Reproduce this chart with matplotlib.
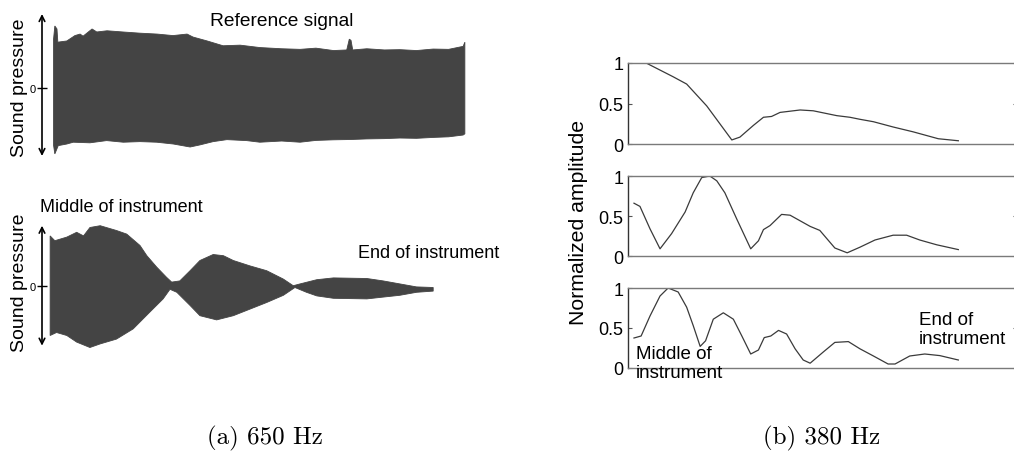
import matplotlib.pyplot as plt
import numpy as np

plt.rcParams['font.family'] = ['Liberation Sans', 'DejaVu Sans']

W, H = 1014, 452

# (a) 650 Hz -- envelopes of the recorded waveforms (time as fraction of panel width)
ref_t_up = [0.027, 0.030, 0.035, 0.037, 0.058, 0.077, 0.089, 0.096, 0.117, 0.128, 0.152,
            0.189, 0.229, 0.269, 0.306, 0.339, 0.353, 0.386, 0.423, 0.463, 0.509, 0.560,
            0.603, 0.640, 0.681, 0.712, 0.718, 0.722, 0.726, 0.759, 0.800, 0.836, 0.875,
            0.914, 0.950, 0.984, 0.988]
ref_up = [0.82, 1.04, 0.99, 0.77, 0.79, 0.88, 0.905, 0.87, 0.99, 0.94, 0.96,
          0.94, 0.92, 0.905, 0.88, 0.905, 0.855, 0.79, 0.71, 0.72, 0.68, 0.66,
          0.65, 0.67, 0.63, 0.64, 0.82, 0.80, 0.64, 0.66, 0.64, 0.645, 0.63,
          0.655, 0.65, 0.70, 0.77]
ref_t_lo = [0.027, 0.030, 0.038, 0.058, 0.073, 0.112, 0.151, 0.190, 0.229, 0.268, 0.307,
            0.346, 0.369, 0.400, 0.432, 0.478, 0.509, 0.560, 0.603, 0.640, 0.681, 0.720,
            0.759, 0.800, 0.836, 0.875, 0.914, 0.950, 0.984, 0.988]
ref_lo = [-0.95, -1.095, -0.957, -0.93, -0.90, -0.91, -0.873, -0.90, -0.89, -0.90, -0.93,
          -0.98, -0.945, -0.89, -0.857, -0.873, -0.90, -0.88, -0.90, -0.87, -0.86, -0.855,
          -0.845, -0.84, -0.83, -0.835, -0.82, -0.81, -0.78, -0.76]

mid_t_up = [0.019, 0.030, 0.058, 0.081, 0.097, 0.112, 0.136, 0.174, 0.198, 0.229, 0.245,
            0.268, 0.291, 0.303, 0.322, 0.346, 0.369, 0.400, 0.424, 0.447, 0.486, 0.525,
            0.564, 0.587, 0.603, 0.642, 0.681, 0.759, 0.797, 0.836, 0.875, 0.914]
mid_up = [0.83, 0.75, 0.81, 0.89, 0.83, 0.97, 1.00, 0.92, 0.86, 0.67, 0.50,
          0.31, 0.14, 0.06, 0.08, 0.25, 0.42, 0.52, 0.50, 0.42, 0.33, 0.25,
          0.11, 0.0, 0.03, 0.10, 0.13, 0.12, 0.08, 0.03, -0.02, -0.03]
mid_t_lo = [0.019, 0.034, 0.058, 0.081, 0.112, 0.136, 0.174, 0.213, 0.252, 0.283, 0.299,
            0.315, 0.346, 0.369, 0.408, 0.447, 0.486, 0.525, 0.564, 0.591, 0.618, 0.642,
            0.681, 0.759, 0.797, 0.836, 0.875, 0.914]
mid_lo = [-0.83, -0.78, -0.83, -0.94, -1.03, -0.97, -0.89, -0.72, -0.44, -0.22, -0.06,
          -0.11, -0.33, -0.50, -0.57, -0.50, -0.39, -0.28, -0.16, -0.03, -0.11, -0.17,
          -0.21, -0.22, -0.19, -0.16, -0.11, -0.09]

# (b) 380 Hz -- normalized amplitude along the instrument
pos_a = [4.7, 11.7, 15.2, 20.4, 26.9, 29.0, 32.5, 35.1, 37.2, 39.4, 44.6, 48.0, 54.1,
         57.5, 60.1, 63.6, 68.7, 73.9, 80.4, 85.6]
amp_a = [1.0, 0.83, 0.74, 0.47, 0.05, 0.085, 0.23, 0.33, 0.34, 0.39, 0.42, 0.41, 0.35,
         0.33, 0.305, 0.275, 0.21, 0.15, 0.065, 0.04]
pos_b = [1.55, 3.1, 5.7, 8.3, 11.3, 14.8, 16.9, 19.1, 21.2, 23.0, 25.1, 28.2, 31.8, 33.8,
         35.1, 36.8, 39.8, 42.0, 44.6, 47.2, 49.7, 53.6, 56.8, 60.1, 64.0, 68.7, 72.2,
         75.6, 80.0, 85.6]
amp_b = [0.66, 0.62, 0.34, 0.09, 0.28, 0.55, 0.79, 0.98, 1.0, 0.94, 0.79, 0.46, 0.09, 0.19,
         0.33, 0.38, 0.52, 0.51, 0.44, 0.37, 0.32, 0.10, 0.04, 0.11, 0.20, 0.26, 0.26,
         0.20, 0.14, 0.08]
pos_c = [1.55, 3.4, 5.7, 8.3, 10.4, 13.0, 15.2, 16.9, 18.7, 20.1, 22.1, 24.7, 27.3, 29.5,
         31.8, 33.8, 35.3, 37.0, 39.0, 41.1, 43.3, 45.4, 47.2, 50.6, 53.6, 57.1, 60.1,
         63.6, 67.4, 69.2, 73.0, 76.9, 80.8, 85.6]
amp_c = [0.375, 0.40, 0.65, 0.90, 1.0, 0.95, 0.76, 0.53, 0.27, 0.34, 0.61, 0.69, 0.61, 0.40,
         0.175, 0.225, 0.38, 0.40, 0.47, 0.425, 0.24, 0.10, 0.06, 0.20, 0.32, 0.33, 0.24,
         0.15, 0.05, 0.05, 0.15, 0.175, 0.155, 0.10]


def rect(x0, y0, x1, y1):
    # pixel box (top-left origin) -> figure fraction
    return [x0 / W, 1 - y1 / H, (x1 - x0) / W, (y1 - y0) / H]


fig = plt.figure(figsize=(W / 100, H / 100), dpi=100)
wave_color = '#444444'


def wave_panel(box, ylim, t_up, up, t_lo, lo):
    ax = fig.add_axes(box)
    xs = np.concatenate([t_up, t_lo[::-1]])
    ys = np.concatenate([up, lo[::-1]])
    ax.fill(xs, ys, color=wave_color, lw=0.6, clip_on=False)
    ax.set_xlim(0, 1)
    ax.set_ylim(*ylim)
    for s in ax.spines.values():
        s.set_visible(False)
    ax.set_xticks([])
    ax.set_yticks([0])
    ax.set_yticklabels(['0'], fontsize=8)
    ax.tick_params(axis='y', direction='inout', length=7, width=1, pad=1)
    ax.annotate('', xy=(0, 1), xytext=(0, 0), xycoords='axes fraction',
                arrowprops=dict(arrowstyle='<->', color='black', lw=1.2,
                                shrinkA=0, shrinkB=0, mutation_scale=10))
    ax.patch.set_alpha(0)
    return ax


wave_panel(rect(42, 15, 470, 157), (-1.13, 1.24), ref_t_up, ref_up, ref_t_lo, ref_lo)
wave_panel(rect(42, 226.7, 470, 346.7), (-1.0, 1.0), mid_t_up, mid_up, mid_t_lo, mid_lo)

fig.text(282 / W, 1 - 21 / H, 'Reference signal', ha='center', va='center', fontsize=13.8)
fig.text(40 / W, 1 - 208 / H, 'Middle of instrument', ha='left', va='center', fontsize=13)
fig.text(358 / W, 1 - 253 / H, 'End of instrument', ha='left', va='center', fontsize=13)
for yc in (88, 283):
    fig.text(20 / W, 1 - yc / H, 'Sound pressure', rotation=90,
             ha='center', va='center', fontsize=14)

# right-hand panels
boxes = [(64, 145), (177, 257), (289, 369)]
series = [(pos_a, amp_a), (pos_b, amp_b), (pos_c, amp_c)]
axes_r = []
for (y0, y1), (px, py) in zip(boxes, series):
    ax = fig.add_axes(rect(628, y0, 1017, y1))
    ax.plot(px, py, color='#3a3a3a', lw=0.9)
    ax.set_xlim(0, 100.8)
    ax.set_ylim(0, 1)
    ax.set_xticks([])
    ax.set_yticks([0, 0.5, 1])
    ax.set_yticklabels(['0', '0.5', '1'], fontsize=13)
    ax.tick_params(axis='y', direction='in', length=3, pad=3.5, right=True, color='#555555')
    ax.spines['left'].set_color('#333333')
    for k in ('top', 'bottom', 'right'):
        ax.spines[k].set_color('#7a7a7a')
    for s in ax.spines.values():
        s.set_linewidth(1.0)
    axes_r.append(ax)

axes_r[2].text(2.0, 0.06, 'Middle of\ninstrument', ha='left', va='center',
               fontsize=13.5, linespacing=1.15, clip_on=False)
axes_r[2].text(75.3, 0.49, 'End of\ninstrument', ha='left', va='center',
               fontsize=13.5, linespacing=1.15, clip_on=False)
fig.text(579 / W, 1 - 222 / H, 'Normalized amplitude', rotation=90,
         ha='center', va='center', fontsize=15.3)

fig.text(265 / W, 1 - 438 / H, '(a) 650 Hz', ha='center', va='center',
         fontsize=18, family=['cmr10', 'DejaVu Serif'])
fig.text(822 / W, 1 - 438 / H, '(b) 380 Hz', ha='center', va='center',
         fontsize=18, family=['cmr10', 'DejaVu Serif'])

fig.savefig('out.png', dpi=100)
